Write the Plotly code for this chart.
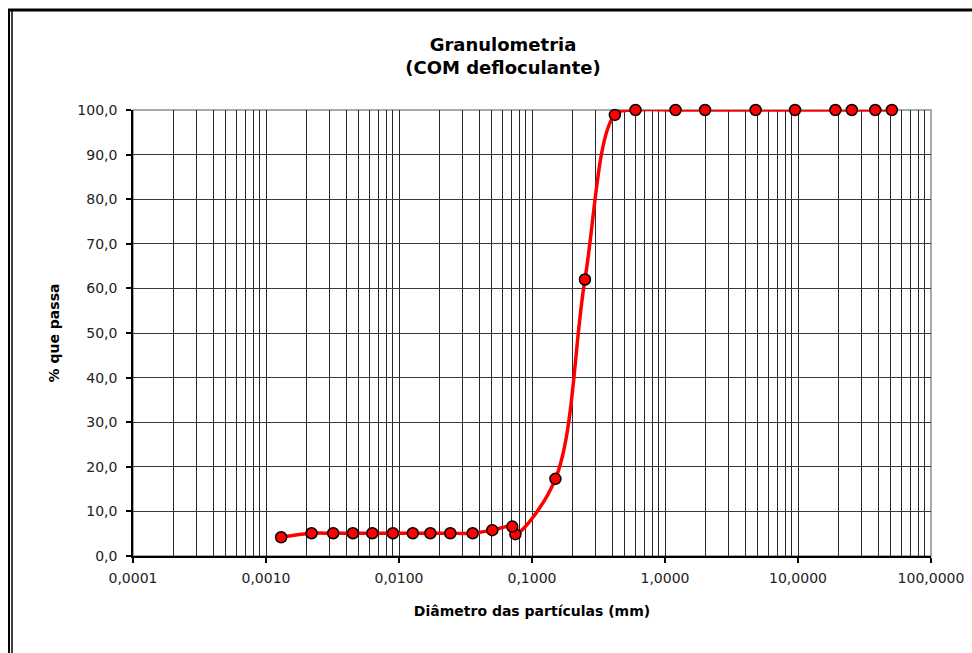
import plotly.graph_objects as go

# Sieve analysis (mm, % passing)
sieve_mm = [50.8, 38.1, 25.4, 19.1, 9.5, 4.8, 2.0, 1.2, 0.6, 0.42, 0.25, 0.15, 0.075]
sieve_pass = [100.0, 100.0, 100.0, 100.0, 100.0, 100.0, 100.0, 100.0, 100.0, 98.9, 62.0, 17.3, 4.9]

# Sedimentation (mm, % passing)
sed_mm = [0.0711, 0.0503, 0.0358, 0.0243, 0.0172, 0.0127, 0.0090, 0.0063, 0.0045, 0.0032, 0.0022, 0.0013]
sed_pass = [6.6, 5.8, 5.1, 5.1, 5.1, 5.1, 5.1, 5.1, 5.1, 5.1, 5.1, 4.2]

diam = sieve_mm + sed_mm
passing = sieve_pass + sed_pass

x_major = [0.0001, 0.001, 0.01, 0.1, 1, 10, 100]
x_labels = ["0,0001", "0,0010", "0,0100", "0,1000", "1,0000", "10,0000", "100,0000"]
# interior gridlines: every 1..9 subdivision of each decade (edges left to the frame)
x_grid = [m * d for d in x_major[:-1] for m in range(1, 10) if m * d > x_major[0]]
y_ticks = list(range(0, 101, 10))
y_labels = [f"{v},0" for v in y_ticks]
y_grid = y_ticks[1:-1]

W, H = 972, 653
L, R, T, B = 133, 41, 110, 97
PW, PH = W - L - R, H - T - B

RED = "#ff0000"
GRID = "#262626"
TICK_FONT = dict(family="DejaVu Sans", size=14, color="#222222")
AXT_FONT = dict(family="DejaVu Sans", size=14, color="#000000", weight="bold")

fig = go.Figure()

# smoothed curve (clipped to the plot area)
fig.add_trace(go.Scatter(
    x=diam, y=passing, mode="lines",
    line=dict(color=RED, width=3.5, shape="spline", smoothing=1.0),
    hoverinfo="skip", showlegend=False,
))
# data points
fig.add_trace(go.Scatter(
    x=diam, y=passing, mode="markers",
    marker=dict(size=11, color=RED, line=dict(color="#000000", width=1.5)),
    cliponaxis=False, showlegend=False,
))


def px_x(p):
    return (p - L) / PW


def px_y(p):
    return (H - B - p) / PH


shapes = [
    # plot-area border (top and right in grey)
    dict(type="rect", xref="x domain", yref="y domain", x0=0, x1=1, y0=0, y1=1,
         line=dict(color="#8c8c8c", width=1.5), layer="below"),
    # outer chart frame
    dict(type="line", xref="paper", yref="paper", x0=px_x(8), x1=px_x(W),
         y0=px_y(10), y1=px_y(10), line=dict(color="#000000", width=3)),
    dict(type="line", xref="paper", yref="paper", x0=px_x(9), x1=px_x(9),
         y0=px_y(9), y1=px_y(H), line=dict(color="#000000", width=2)),
    dict(type="line", xref="paper", yref="paper", x0=px_x(12), x1=px_x(12),
         y0=px_y(9), y1=px_y(H), line=dict(color="#000000", width=1.5)),
]

fig.update_layout(
    width=W, height=H, autosize=False,
    margin=dict(l=L, r=R, t=T, b=B, pad=0, autoexpand=False),
    paper_bgcolor="#ffffff", plot_bgcolor="rgba(0,0,0,0)",
    title=dict(
        text="Granulometria<br>(COM defloculante)",
        x=503 / W, xref="container", xanchor="center",
        y=1 - 51 / H, yref="container", yanchor="top",
        font=dict(family="DejaVu Sans", size=18, color="#000000", weight="bold"),
    ),
    shapes=shapes,
    showlegend=False,
)

fig.update_xaxes(
    type="log", range=[-4, 2], automargin=False,
    tickmode="array", tickvals=x_major, ticktext=x_labels,
    tickfont=TICK_FONT, ticks="outside", ticklen=5, tickwidth=1.5, tickcolor="#000000",
    ticklabelstandoff=3,
    showgrid=False,
    minor=dict(tickmode="array", tickvals=x_grid, showgrid=True, gridcolor=GRID,
               gridwidth=1, ticks=""),
    showline=True, linecolor="#000000", linewidth=1.5,
    zeroline=False,
    title=dict(text="Diâmetro das partículas (mm)", font=AXT_FONT, standoff=22),
)
fig.update_yaxes(
    range=[0, 100], automargin=False,
    tickmode="array", tickvals=y_ticks, ticktext=y_labels,
    tickfont=TICK_FONT, ticks="outside", ticklen=5, tickwidth=1.5, tickcolor="#000000",
    ticklabelstandoff=6,
    showgrid=False,
    minor=dict(tickmode="array", tickvals=y_grid, showgrid=True, gridcolor="#3a3a3a",
               gridwidth=1, ticks=""),
    showline=True, linecolor="#000000", linewidth=1.5,
    zeroline=False,
    title=dict(text="% que passa", font=AXT_FONT, standoff=14),
)

fig.write_html("out.html")
